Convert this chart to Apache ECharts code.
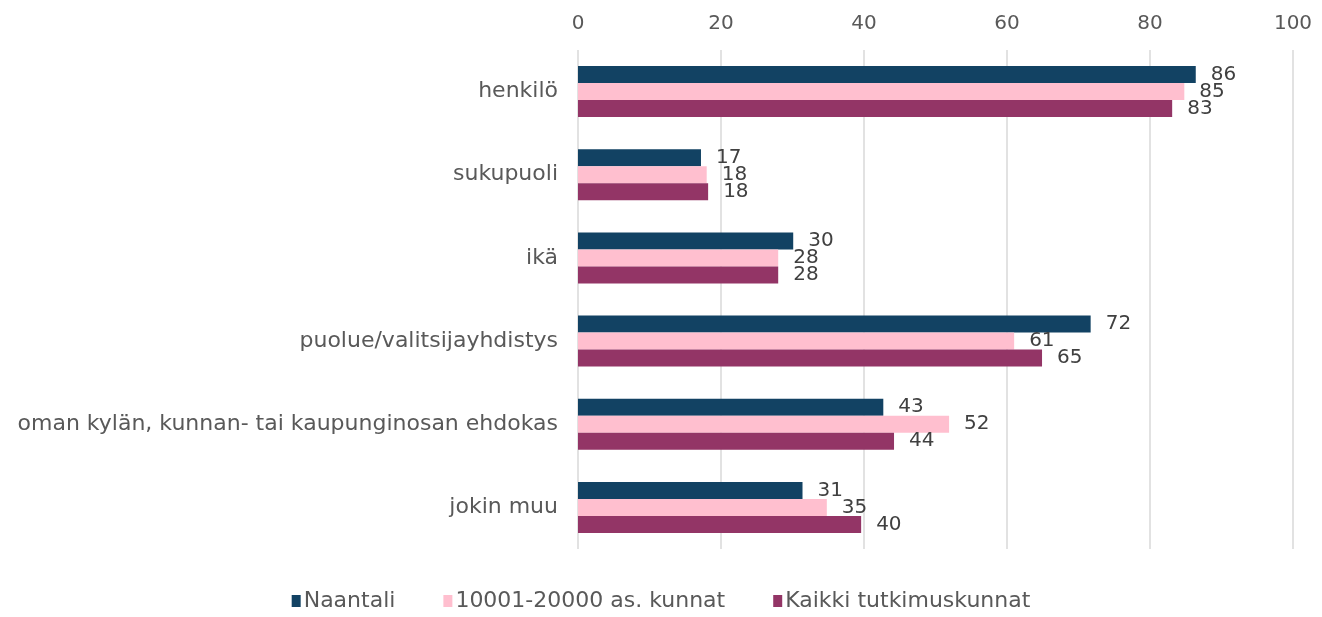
<!DOCTYPE html>
<html>
<head>
<meta charset="utf-8">
<script src="https://cdn.jsdelivr.net/npm/echarts@6/dist/echarts.min.js"></script>
<style>
  html, body { margin: 0; padding: 0; background: #fff; }
  #main { width: 1322px; height: 617px; }
</style>
</head>
<body>
<div id="main"></div>
<script>
  // kategoriat ja sarjat
  const categories = ['henkilö', 'sukupuoli', 'ikä', 'puolue/valitsijayhdistys', 'oman kylän, kunnan- tai kaupunginosan ehdokas', 'jokin muu']
  const naantali = [86.4, 17.2, 30.1, 71.7, 42.7, 31.4]
  const kunnat = [84.8, 18.0, 28.0, 61.0, 51.9, 34.8]
  const kaikki = [83.1, 18.2, 28.0, 64.9, 44.2, 39.6]
  const seriesNames = ['Naantali', '10001-20000 as. kunnat', 'Kaikki tutkimuskunnat']
  const colors = ['#124263', '#ffbfcf', '#933566']

  const font = 'DejaVu Sans'
  const textColor = '#595959'

  let myChart = echarts.init(document.getElementById('main'))

  const makeSeries = (name, data, color) => ({
    name: name,
    type: 'bar',
    data: data,
    barWidth: 17,
    barGap: '0%',
    itemStyle: { color: color },
    label: {
      show: true,
      position: 'right',
      distance: 15,
      color: '#404040',
      fontFamily: font,
      fontSize: 20,
      formatter: p => Math.round(p.value)
    }
  })

  myChart.setOption({
    animation: false,
    textStyle: { fontFamily: font },
    legend: {
      bottom: 0,
      left: 'center',
      itemWidth: 9,
      itemHeight: 12,
      itemGap: 48,
      icon: 'rect',
      textStyle: { color: textColor, fontSize: 22, fontFamily: font, padding: [0, 0, 0, -2] },
      data: seriesNames
    },
    grid: {
      left: 578,
      right: 29,
      top: 50,
      bottom: 68
    },
    xAxis: {
      type: 'value',
      position: 'top',
      min: 0,
      max: 100,
      interval: 20,
      axisLine: { show: false },
      axisTick: { show: false },
      axisLabel: { color: textColor, fontSize: 20, fontFamily: font, margin: 16 },
      splitLine: { lineStyle: { color: '#d9d9d9', width: 1.5 } }
    },
    yAxis: {
      type: 'category',
      inverse: true,
      data: categories,
      axisLine: { show: false },
      axisTick: { show: false },
      axisLabel: { color: textColor, fontSize: 22, fontFamily: font, margin: 20 }
    },
    series: [
      makeSeries(seriesNames[0], naantali, colors[0]),
      makeSeries(seriesNames[1], kunnat, colors[1]),
      makeSeries(seriesNames[2], kaikki, colors[2])
    ]
  })
</script>
</body>
</html>
